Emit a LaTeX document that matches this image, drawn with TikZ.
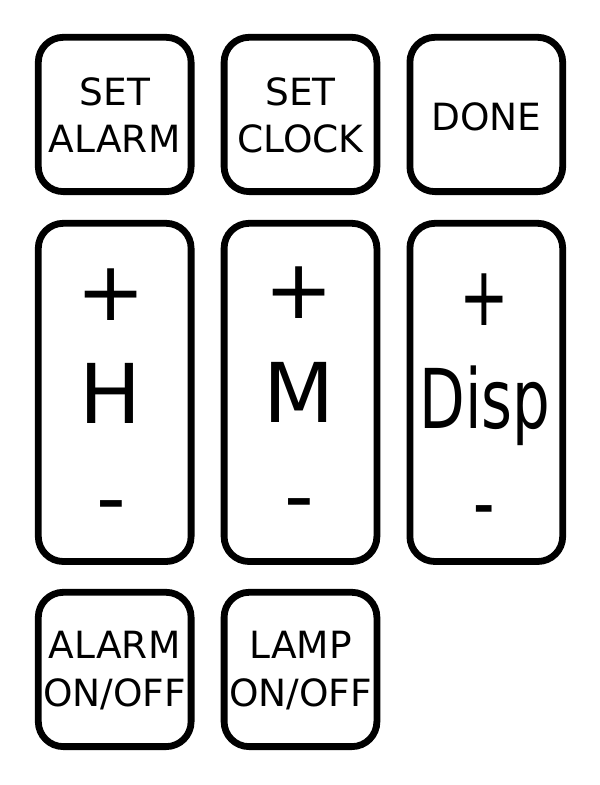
\documentclass[tikz,border=0pt]{standalone}
\usepackage{fontspec}
\setmainfont{DejaVu Sans}
\usepackage{graphicx}
\begin{document}
\begin{tikzpicture}[x=1pt,y=-1pt,
  btn/.style={draw=black, line width=6.8pt, rounded corners=25pt, inner sep=0pt, outer sep=0pt,
    minimum width=152.8pt, anchor=north west, fill=white},
  sqbtn/.style={btn, minimum height=154.3pt},
  tallbtn/.style={btn, minimum height=338.2pt},
  smalltxt/.style={inner sep=0pt, outer sep=0pt, anchor=base, font=\fontsize{37.5}{46.9}\selectfont},
  bigtxt/.style={inner sep=0pt, outer sep=0pt, anchor=base, font=\fontsize{82.5}{103}\selectfont}]
\fill[white] (0,0) rectangle (600,785);
\useasboundingbox (0,0) rectangle (600,785);
% top row
\node[sqbtn] (setalarm) at (38.3,37.3) {};
\node[sqbtn] (setclock) at (224.1,37.3) {};
\node[sqbtn] (done) at (409.9,37.3) {};
\node[smalltxt] (setalarmA) at (114.7,105) {SET};
\node[smalltxt] (setalarmB) at (114.7,152) {ALARM};
\node[smalltxt] (setclockA) at (300.5,105) {SET};
\node[smalltxt] (setclockB) at (300.5,152) {CLOCK};
\node[smalltxt] (doneT) at (486.3,130) {DONE};
% middle row
\node[tallbtn] (hbtn) at (38.3,223.3) {};
\node[tallbtn] (mbtn) at (224.1,223.3) {};
\node[tallbtn] (dbtn) at (409.9,223.3) {};
\node[bigtxt] (hplus) at (111,320) {+};
\node[bigtxt] (hlab) at (111,423) {H};
\node[bigtxt] (hminus) at (111,526) {-};
\node[bigtxt] (mplus) at (299.5,318.5) {+};
\node[bigtxt] (mlab) at (299.5,422) {M};
\node[bigtxt] (mminus) at (299.5,524.5) {-};
\node[bigtxt] (dplus) at (484.5,325) {\scalebox{0.72}[1]{+}};
\node[bigtxt] (dlab) at (485,428) {\scalebox{0.72}[1]{Disp}};
\node[bigtxt] (dminus) at (484.5,531) {\scalebox{0.72}[1]{-}};
% bottom row
\node[sqbtn] (alarmonoff) at (38.3,592.3) {};
\node[sqbtn] (lamponoff) at (224.1,592.3) {};
\node[smalltxt] (alarmA) at (114.7,658) {ALARM};
\node[smalltxt] (alarmB) at (114.7,706) {ON/OFF};
\node[smalltxt] (lampA) at (300.5,658) {LAMP};
\node[smalltxt] (lampB) at (300.5,706) {ON/OFF};
\end{tikzpicture}
\end{document}
